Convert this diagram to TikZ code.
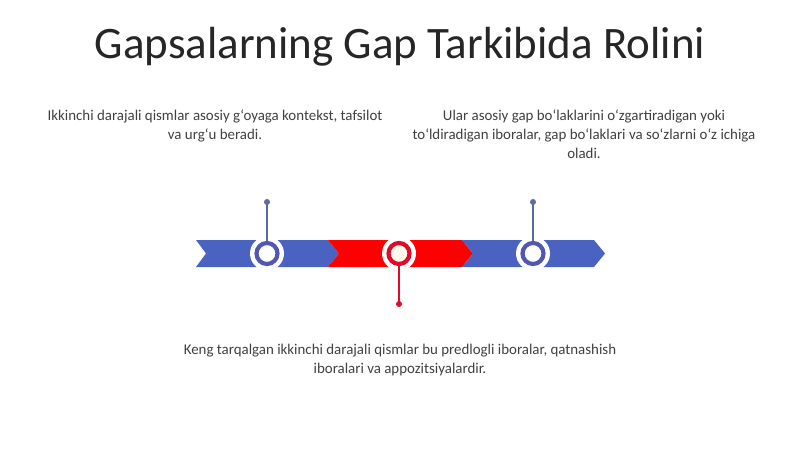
\documentclass[tikz,border=0pt]{standalone}
\usepackage{fontspec}
\setmainfont{Carlito}
\definecolor{bandblue}{HTML}{4A63C0}
\definecolor{ringblue}{HTML}{5257B0}
\definecolor{stemblue}{HTML}{5E6A9E}
\definecolor{bandred}{HTML}{FF0000}
\definecolor{ringred}{HTML}{E00A2A}
\definecolor{txt}{HTML}{404040}
\definecolor{ttl}{HTML}{262626}
\begin{document}
\begin{tikzpicture}[x=1pt,y=-1pt,
  backing/.style={circle,fill=white,minimum size=34pt,inner sep=0pt},
  ring/.style={circle,fill=white,draw=#1,line width=4.2pt,minimum size=21pt,inner sep=0pt},
  dotmark/.style={circle,fill=#1,minimum size=6pt,inner sep=0pt},
  stem/.style={draw=#1,line width=1.3pt},
  para/.style={align=center,font=\fontsize{14.9}{19}\selectfont,text=txt,inner sep=0pt,anchor=north}]
\useasboundingbox[fill=white] (0,0) rectangle (800,449);
\node[font=\fontsize{45}{50}\selectfont,text=ttl] (title) at (400,47) {Gapsalarning Gap Tarkibida Rolini};
\node[para] (t1) at (215,110) {Ikkinchi darajali qismlar asosiy g‘oyaga kontekst, tafsilot\\va urg‘u beradi.};
\node[para] (t2) at (584,110) {Ular asosiy gap bo‘laklarini o‘zgartiradigan yoki\\to‘ldiradigan iboralar, gap bo‘laklari va so‘zlarni o‘z ichiga\\oladi.};
\node[para] (t3) at (400,344) {Keng tarqalgan ikkinchi darajali qismlar bu predlogli iboralar, qatnashish\\iboralari va appozitsiyalardir.};
% band
\fill[bandblue] (196,240) -- (328,240) -- (339,253.5) -- (328,267) -- (196,267) -- (206,253.5) -- cycle;
\fill[bandred] (328,240) -- (462,240) -- (473,253.5) -- (462,267) -- (328,267) -- (339,253.5) -- cycle;
\fill[bandblue] (462,240) -- (594,240) -- (605,253.5) -- (594,267) -- (462,267) -- (473,253.5) -- cycle;
% markers
\node[backing] (h1) at (267,253.5) {};
\node[backing] (h2) at (399,253.5) {};
\node[backing] (h3) at (533,253.5) {};
\node[dotmark=stemblue] (d1) at (267,202) {};
\node[dotmark=ringred] (d2) at (399,304) {};
\node[dotmark=stemblue] (d3) at (533,202) {};
\draw[stem=stemblue] (d1.center) -- (h1.center);
\draw[stem=ringred] (d2.center) -- (h2.center);
\draw[stem=stemblue] (d3.center) -- (h3.center);
\node[ring=ringblue] (c1) at (h1) {};
\node[ring=ringred,fill={rgb,255:red,255;green,250;blue,235}] (c2) at (h2) {};
\node[ring=ringblue] (c3) at (h3) {};
\end{tikzpicture}
\end{document}
